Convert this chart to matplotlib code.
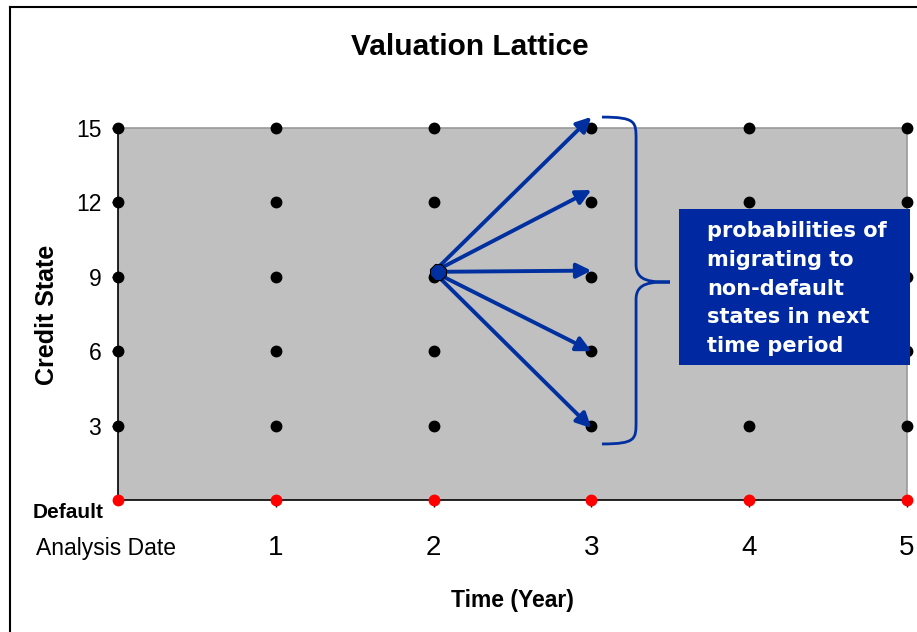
import matplotlib
matplotlib.use("Agg")
import matplotlib.pyplot as plt
from matplotlib.lines import Line2D
from matplotlib.patches import Rectangle, PathPatch
from matplotlib.path import Path

# lattice data
periods = [0, 1, 2, 3, 4, 5]
states = [3, 6, 9, 12, 15]
default_state = 0
period_labels = ["1", "2", "3", "4", "5"]
state_labels = ["3", "6", "9", "12", "15"]

# migration from (2, 9) into the next period
start_period = 2
start_state = 9
target_states = [15, 12, 9, 6, 3]
tip_offsets = [0.45, 0.5, 0.25, 0.0, -0.1]

box_text = "probabilities of\nmigrating to\nnon-default\nstates in next\ntime period"

blue = "#0030A0"
W, H = 917, 632

fig = plt.figure(figsize=(W / 100, H / 100), dpi=100)
ax = fig.add_axes([118 / W, (H - 500) / H, (907 - 118) / W, 372 / H])
ax.set_facecolor("#C0C0C0")
ax.set_xlim(0, 5)
ax.set_ylim(0, 15)

for side in ["top", "right"]:
    ax.spines[side].set_color("#999999")
    ax.spines[side].set_linewidth(1.2)
for side in ["left", "bottom"]:
    ax.spines[side].set_color("black")
    ax.spines[side].set_linewidth(1.2)

# grid of nodes
for p in periods:
    ax.plot([p] * len(states), states, "o", color="black", ms=7.5, clip_on=False, zorder=3)
ax.plot(periods, [default_state] * len(periods), "o", color="red", ms=7.5, clip_on=False, zorder=3)

# arrows
for s, off in zip(target_states, tip_offsets):
    ax.annotate("", xy=(start_period + 1, s + off), xytext=(start_period, start_state + 0.2),
                annotation_clip=False,
                arrowprops=dict(arrowstyle="-|>", color=blue, lw=2.8, mutation_scale=22,
                                shrinkA=6, shrinkB=0), zorder=4)
ax.plot([start_period + 0.03], [start_state + 0.2], marker="8", ms=13, color=blue,
        mec="black", mew=0.8, zorder=5)

# curly brace
bx0, bx1, bx2 = 3.067, 3.283, 3.498
ytop, ymid, ybot = 15.44, 8.79, 2.26
verts = [(bx0, ytop), (bx1, ytop), (bx1, ytop - 0.2), (bx1, ytop - 0.9),
         (bx1, ymid + 0.7),
         (bx1, ymid), (bx1 + 0.1, ymid), (bx2, ymid),
         (bx1 + 0.1, ymid), (bx1, ymid), (bx1, ymid - 0.7),
         (bx1, ybot + 0.9),
         (bx1, ybot + 0.2), (bx1, ybot), (bx0, ybot)]
codes = [Path.MOVETO, Path.CURVE4, Path.CURVE4, Path.CURVE4,
         Path.LINETO,
         Path.CURVE4, Path.CURVE4, Path.CURVE4,
         Path.CURVE4, Path.CURVE4, Path.CURVE4,
         Path.LINETO,
         Path.CURVE4, Path.CURVE4, Path.CURVE4]
ax.add_patch(PathPatch(Path(verts, codes), fill=False, edgecolor=blue, lw=2, clip_on=False, zorder=4))

# text box
ax.add_patch(Rectangle((3.555, 5.44), 1.465, 6.29, facecolor="#0028A0", edgecolor="none",
                       clip_on=False, zorder=6))
ax.text(3.733, 11.25, box_text, color="white", fontsize=15, fontweight="bold",
        family="DejaVu Sans", ha="left", va="top", linespacing=1.55, zorder=7)

# ticks
ax.set_yticks(states)
ax.set_yticklabels(state_labels, fontsize=16.5, family="Liberation Sans")
ax.set_xticks(periods[1:])
ax.set_xticklabels(period_labels, fontsize=20, family="Liberation Sans")
ax.tick_params(axis="y", length=4, width=1, pad=8)
ax.tick_params(axis="x", length=5, width=1, pad=20)

ax.annotate("Default", xy=(0, default_state), xytext=(-14, -12), textcoords="offset pixels",
            ha="right", va="center", fontsize=15, fontweight="bold", family="Liberation Sans")
ax.annotate("Analysis Date", xy=(0, default_state), xytext=(-12, -49), textcoords="offset pixels",
            ha="center", va="center", fontsize=16.5, family="Liberation Sans")

fig.text(470 / W, 1 - 47 / H, "Valuation Lattice", ha="center", va="center",
         fontsize=21.5, fontweight="bold", family="Liberation Sans")
fig.text(47 / W, 1 - 315 / H, "Credit State", rotation=90, ha="center", va="center",
         fontsize=18, fontweight="bold", family="Liberation Sans")
fig.text(512 / W, 1 - 600 / H, "Time (Year)", ha="center", va="center",
         fontsize=16.5, fontweight="bold", family="Liberation Sans")

# outer frame (left and top edges)
fig.add_artist(Line2D([10 / W, 10 / W], [0, 1 - 7 / H], color="black", lw=1.5))
fig.add_artist(Line2D([10 / W, 1], [1 - 7 / H, 1 - 7 / H], color="black", lw=1.5))

fig.savefig("out.png", dpi=100)
